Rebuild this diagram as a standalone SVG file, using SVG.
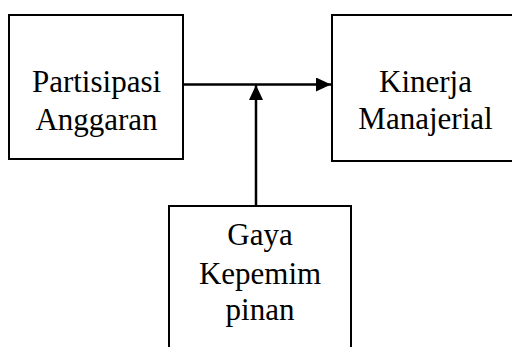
<svg xmlns="http://www.w3.org/2000/svg" width="512" height="347" viewBox="0 0 512 347">
<style>
.box{fill:#fff;stroke:#000;stroke-width:2}
.lbl{font-family:'Liberation Serif','Times New Roman',serif;font-size:31px;fill:#000;text-anchor:middle}
.conn{stroke:#000;stroke-width:2.5;fill:none}
</style>
<defs>
<marker id="ah" viewBox="0 0 15 14" refX="15" refY="7" markerWidth="15" markerHeight="14" markerUnits="userSpaceOnUse" orient="auto">
<path d="M0,0 L15,7 L0,14 Z" fill="#000"/>
</marker>
</defs>
<rect width="512" height="347" fill="#fff"/>
<g id="partisipasi">
<rect class="box" x="9" y="15" width="174" height="144"/>
<text class="lbl" x="96.5" y="92">Partisipasi</text>
<text class="lbl" x="96.5" y="130">Anggaran</text>
</g>
<g id="kinerja">
<rect class="box" x="332" y="15" width="190" height="146"/>
<text class="lbl" x="425.5" y="92">Kinerja</text>
<text class="lbl" x="425.5" y="129">Manajerial</text>
</g>
<g id="gaya">
<rect class="box" x="169" y="206" width="182" height="160"/>
<text class="lbl" x="260" y="245">Gaya</text>
<text class="lbl" x="260" y="284">Kepemim</text>
<text class="lbl" x="260" y="320">pinan</text>
</g>
<g id="connectors">
<line class="conn" x1="183" y1="84.5" x2="331" y2="84.5" marker-end="url(#ah)"/>
<line class="conn" x1="256" y1="206" x2="256" y2="85" marker-end="url(#ah)"/>
</g>
</svg>
